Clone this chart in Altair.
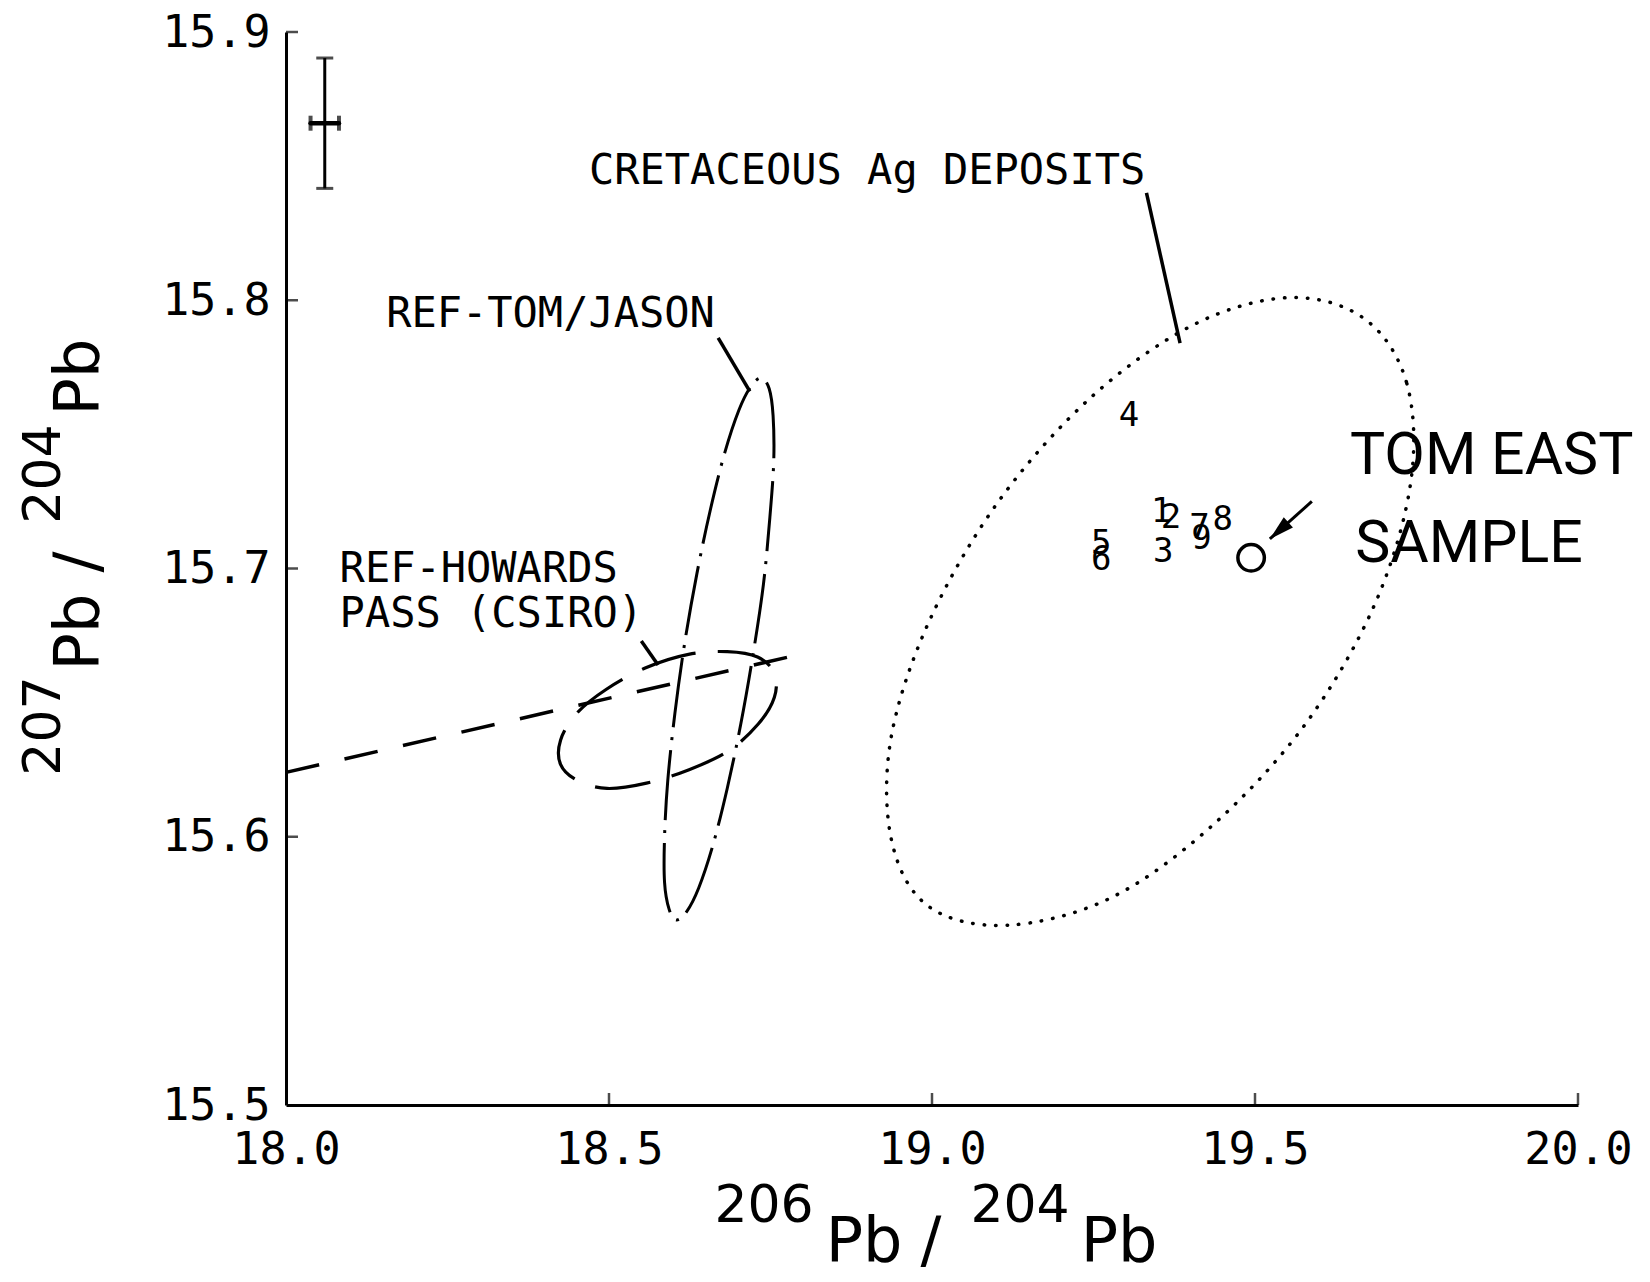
import altair as alt
import pandas as pd

# ---------------- data ----------------
X_DOMAIN = [18.0, 20.0]
Y_DOMAIN = [15.5, 15.9]
x_label_values = [18.0, 18.5, 19.0, 19.5, 20.0]
y_label_values = [15.5, 15.6, 15.7, 15.8, 15.9]
x_tick_values = [18.5, 19.0, 19.5, 20.0]
y_tick_values = [15.6, 15.7, 15.8, 15.9]

# Cretaceous Ag deposits field (dotted outline)
cret_x = [19.670, 19.735, 19.741, 19.686, 19.578, 19.433, 19.275, 19.115,
          18.995, 18.938, 18.936, 18.995, 19.103, 19.247, 19.406, 19.554]
cret_y = [15.793, 15.769, 15.732, 15.687, 15.642, 15.604, 15.577, 15.567,
          15.574, 15.598, 15.636, 15.680, 15.725, 15.764, 15.791, 15.801]

# REF-TOM/JASON field (dash-dot outline)
tj_x = [18.736, 18.748, 18.754, 18.755, 18.749, 18.739, 18.723, 18.704,
        18.683, 18.661, 18.639, 18.620, 18.604, 18.593, 18.586, 18.586,
        18.591, 18.602, 18.617, 18.636, 18.657, 18.679, 18.701, 18.720]
tj_y = [15.771, 15.767, 15.757, 15.740, 15.719, 15.694, 15.668, 15.642,
        15.618, 15.597, 15.581, 15.572, 15.569, 15.573, 15.583, 15.600,
        15.621, 15.646, 15.672, 15.698, 15.722, 15.743, 15.759, 15.768]

# REF-HOWARDS PASS field (dashed outline)
hp_x = [18.756, 18.756, 18.731, 18.685, 18.624, 18.558, 18.497, 18.451,
        18.425, 18.425, 18.450, 18.496, 18.557, 18.623, 18.683, 18.730]
hp_y = [15.661, 15.652, 15.642, 15.632, 15.625, 15.620, 15.618, 15.621,
        15.627, 15.636, 15.646, 15.655, 15.663, 15.668, 15.669, 15.667]

# Howards Pass growth line (dashed)
hp_line_x = [18.0, 18.814]
hp_line_y = [15.624, 15.669]

# individual samples
sample_labels = ["1", "2", "3", "4", "5", "6", "7", "8", "9"]
sample_x = [19.355, 19.370, 19.358, 19.305, 19.262, 19.262, 19.414, 19.450, 19.417]
sample_y = [15.721, 15.719, 15.706, 15.757, 15.709, 15.703, 15.715, 15.718, 15.711]
tom_east_x = [19.494]
tom_east_y = [15.704]

# error cross
err_x = 18.060
err_y = 15.866
err_dx = 0.022
err_dy = 0.0243

# annotations
note_text = ["CRETACEOUS Ag DEPOSITS", "REF-TOM/JASON", "REF-HOWARDS", "PASS (CSIRO)"]
note_x = [18.469, 18.155, 18.083, 18.083]
note_y = [15.848, 15.795, 15.700, 15.683]

big_text = ["TOM EAST", "SAMPLE"]
big_x = [19.647, 19.655]
big_y = [15.742, 15.709]

leader_x1 = [19.332, 18.669, 18.550]
leader_y1 = [15.840, 15.786, 15.673]
leader_x2 = [19.384, 18.718, 18.576]
leader_y2 = [15.784, 15.766, 15.664]

arrow_x1 = [19.588]
arrow_y1 = [15.725]
arrow_x2 = [19.523]
arrow_y2 = [15.711]

# axis titles (isotope ratio, superscript mass numbers)
x_title_parts = ["206", "Pb", "/", "204", "Pb"]
y_title_parts = ["207", "Pb", "/", "204", "Pb"]

# ---------------- layout / styling ----------------
MONO = "DejaVu Sans Mono"
SANS = "DejaVu Sans"
BLACK = "black"
W, H = 1292, 1073
# (x, y, fontSize) in pixels relative to the plot origin
X_TITLE_LAYOUT = [(478, 1190, 52), (578, 1229, 62), (645, 1229, 62), (734, 1190, 52), (833, 1229, 62)]
Y_TITLE_LAYOUT = [(-226, 694, 52), (-188, 600, 62), (-188, 530, 62), (-226, 442, 52), (-188, 345, 62)]

xs = alt.Scale(domain=X_DOMAIN, nice=False, zero=False)
ys = alt.Scale(domain=Y_DOMAIN, nice=False, zero=False)

x_axis = alt.Axis(values=x_label_values, format=".1f", ticks=False, grid=False,
                  domainColor=BLACK, domainWidth=3, labelFont=MONO, labelFontSize=45,
                  labelColor=BLACK, labelPadding=22, labelFlush=False, title=None)
y_axis = alt.Axis(values=y_label_values, format=".1f", ticks=False, grid=False,
                  domainColor=BLACK, domainWidth=3, labelFont=MONO, labelFontSize=45,
                  labelColor=BLACK, labelPadding=16, labelFlush=False, title=None)


def X(f="x"):
    return alt.X(f"{f}:Q", scale=xs, axis=x_axis)


def Y(f="y"):
    return alt.Y(f"{f}:Q", scale=ys, axis=y_axis)


def closed(xv, yv):
    return pd.DataFrame({"x": xv, "y": yv, "i": list(range(len(xv)))})


cret = alt.Chart(closed(cret_x, cret_y)).mark_line(
    interpolate="cardinal-closed", color=BLACK, strokeWidth=3.5,
    strokeDash=[0.5, 11], strokeCap="round"
).encode(x=X(), y=Y(), order="i:Q")

tj = alt.Chart(closed(tj_x, tj_y)).mark_line(
    interpolate="cardinal-closed", color=BLACK, strokeWidth=3,
    strokeDash=[70, 10, 3, 10]
).encode(x=X(), y=Y(), order="i:Q")

hp = alt.Chart(closed(hp_x, hp_y)).mark_line(
    interpolate="cardinal-closed", color=BLACK, strokeWidth=3.2,
    strokeDash=[56, 22]
).encode(x=X(), y=Y(), order="i:Q")

hp_line = alt.Chart(closed(hp_line_x, hp_line_y)).mark_line(
    color=BLACK, strokeWidth=3.5, strokeDash=[34, 26]
).encode(x=X(), y=Y(), order="i:Q")

# axis ticks pointing inward
xt = alt.Chart(pd.DataFrame({"x": x_tick_values, "y": [Y_DOMAIN[0]] * len(x_tick_values)})).mark_tick(
    orient="vertical", size=12, thickness=2.5, color=BLACK, yOffset=-6
).encode(x=X(), y=Y())
yt = alt.Chart(pd.DataFrame({"x": [X_DOMAIN[0]] * len(y_tick_values), "y": y_tick_values})).mark_tick(
    orient="horizontal", size=12, thickness=2.5, color=BLACK, xOffset=6
).encode(x=X(), y=Y())

# error cross
err_df = pd.DataFrame({"x": [err_x], "y": [err_y],
                       "x1": [err_x - err_dx], "x2": [err_x + err_dx],
                       "y1": [err_y - err_dy], "y2": [err_y + err_dy]})
err_v = alt.Chart(err_df).mark_rule(color=BLACK, strokeWidth=3).encode(
    x=X(), y=Y("y1"), y2="y2:Q")
err_h = alt.Chart(err_df).mark_rule(color=BLACK, strokeWidth=4.5, strokeCap="round").encode(
    x=X("x1"), x2="x2:Q", y=Y())
cap_v = alt.Chart(pd.DataFrame({"x": [err_x, err_x], "y": [err_y - err_dy, err_y + err_dy]})).mark_tick(
    orient="horizontal", size=17, thickness=3, color=BLACK).encode(x=X(), y=Y())
cap_h = alt.Chart(pd.DataFrame({"x": [err_x - err_dx, err_x + err_dx], "y": [err_y, err_y]})).mark_tick(
    orient="vertical", size=15, thickness=4, color=BLACK).encode(x=X(), y=Y())

# leader lines
lead_df = pd.DataFrame({"x": leader_x1, "y": leader_y1, "x2": leader_x2, "y2": leader_y2})
leaders = alt.Chart(lead_df).mark_rule(color=BLACK, strokeWidth=3.5).encode(
    x=X(), y=Y(), x2="x2:Q", y2="y2:Q")

arrow_df = pd.DataFrame({"x": arrow_x1, "y": arrow_y1, "x2": arrow_x2, "y2": arrow_y2})
arrow = alt.Chart(arrow_df).mark_rule(color=BLACK, strokeWidth=3).encode(
    x=X(), y=Y(), x2="x2:Q", y2="y2:Q")
arrow_head = alt.Chart(pd.DataFrame({"x": arrow_x2, "y": arrow_y2})).mark_point(
    shape="M0,0L0.55,2L-0.55,2Z", size=620, filled=True, color=BLACK, opacity=1,
    angle=228, strokeWidth=0
).encode(x=X(), y=Y())

# samples
samples = alt.Chart(pd.DataFrame({"x": sample_x, "y": sample_y, "t": sample_labels})).mark_text(
    font=MONO, fontSize=34, color=BLACK, align="center", baseline="middle"
).encode(x=X(), y=Y(), text="t:N")
tom_east = alt.Chart(pd.DataFrame({"x": tom_east_x, "y": tom_east_y})).mark_point(
    shape="circle", size=700, filled=False, color=BLACK, strokeWidth=3.5, opacity=1
).encode(x=X(), y=Y())

notes = alt.Chart(pd.DataFrame({"x": note_x, "y": note_y, "t": note_text})).mark_text(
    font=MONO, fontSize=42, color=BLACK, align="left", baseline="middle"
).encode(x=X(), y=Y(), text="t:N")

big = alt.Chart(pd.DataFrame({"x": big_x, "y": big_y, "t": big_text})).mark_text(
    font="Roboto", fontSize=59, color=BLACK, align="left", baseline="middle"
).encode(x=X(), y=Y(), text="t:N")

# axis title pieces
title_layers = []
for txt, (px, py, fs) in zip(x_title_parts, X_TITLE_LAYOUT):
    title_layers.append(
        alt.Chart(pd.DataFrame({"t": [txt]})).mark_text(
            font=SANS, fontSize=fs, color=BLACK, align="center", baseline="alphabetic"
        ).encode(x=alt.value(px), y=alt.value(py), text="t:N")
    )
for txt, (px, py, fs) in zip(y_title_parts, Y_TITLE_LAYOUT):
    title_layers.append(
        alt.Chart(pd.DataFrame({"t": [txt]})).mark_text(
            font=SANS, fontSize=fs, color=BLACK, align="center", baseline="alphabetic",
            angle=270
        ).encode(x=alt.value(px), y=alt.value(py), text="t:N")
    )

chart = alt.layer(
    cret, tj, hp, hp_line, xt, yt, err_v, err_h, cap_v, cap_h,
    leaders, arrow, arrow_head, samples, tom_east, notes, big, *title_layers
).properties(
    width=W, height=H,
    autosize=alt.AutoSizeParams(type="none"),
    padding={"left": 278, "top": 24, "right": 60, "bottom": 172},
    background="white",
).configure_view(stroke=None)

chart.save("out.html", embed_options={"renderer": "svg", "actions": False})
